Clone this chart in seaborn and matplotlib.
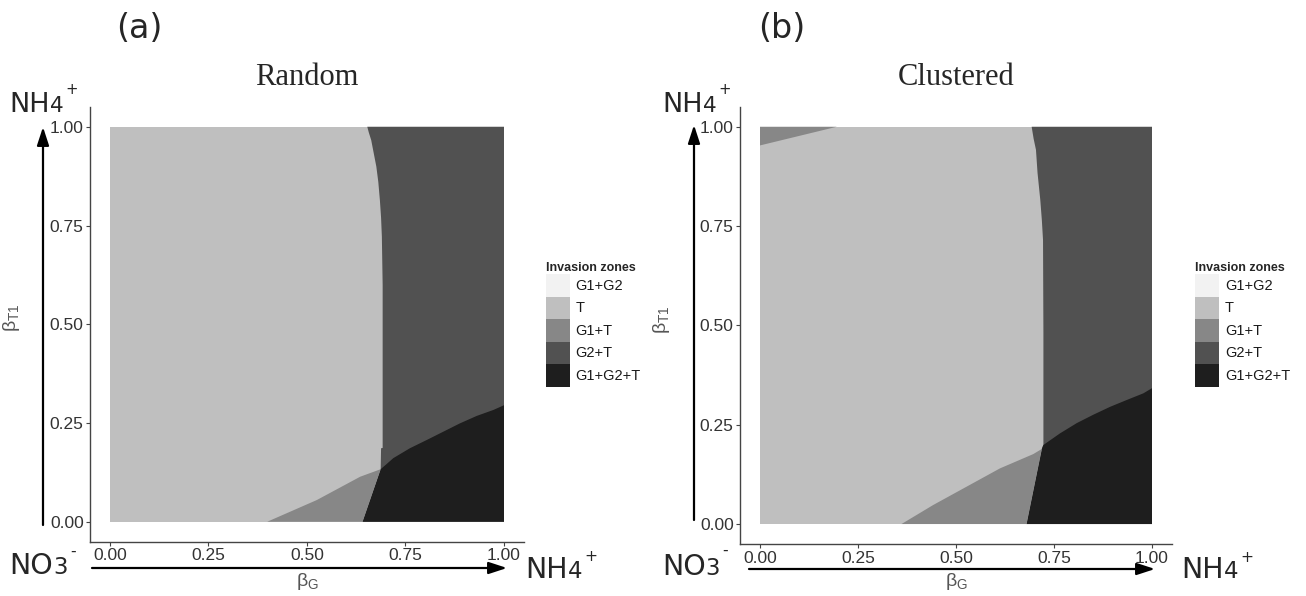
import matplotlib
matplotlib.use("Agg")
import matplotlib.pyplot as plt
import seaborn as sns
from matplotlib.patches import Patch

W, H = 1306, 596

zones = ["G1+G2", "T", "G1+T", "G2+T", "G1+G2+T"]
zone_colors = ["#F2F2F2", "#BFBFBF", "#878787", "#515151", "#1E1E1E"]
ticks = [0.0, 0.25, 0.5, 0.75, 1.0]
tick_labels = ["0.00", "0.25", "0.50", "0.75", "1.00"]

# (a) Random - zone boundaries
rand_t_g2_x = [0.653, 0.657, 0.663, 0.669, 0.676, 0.681, 0.685, 0.688, 0.690,
               0.692, 0.692, 0.688, 0.687]
rand_t_g2_y = [1.000, 0.985, 0.966, 0.935, 0.899, 0.860, 0.814, 0.770, 0.722,
               0.600, 0.187, 0.186, 0.133]
rand_all_x = [0.687, 0.702, 0.719, 0.761, 0.804, 0.846, 0.888, 0.931, 0.973, 1.000]
rand_all_y = [0.133, 0.146, 0.161, 0.186, 0.207, 0.228, 0.249, 0.268, 0.283, 0.295]
rand_g1t_x = [0.399, 0.525, 0.635, 0.687]
rand_g1t_y = [0.000, 0.055, 0.114, 0.133]
rand_all_left = 0.641

# (b) Clustered
clus_t_g2_x = [0.693, 0.698, 0.704, 0.708, 0.715, 0.719, 0.722, 0.723, 0.723, 0.719]
clus_t_g2_y = [1.000, 0.970, 0.942, 0.884, 0.816, 0.765, 0.715, 0.480, 0.200, 0.189]
clus_all_x = [0.719, 0.723, 0.765, 0.808, 0.850, 0.893, 0.935, 0.978, 1.000]
clus_all_y = [0.189, 0.199, 0.228, 0.254, 0.275, 0.295, 0.312, 0.329, 0.342]
clus_g1t_x = [0.361, 0.442, 0.527, 0.612, 0.697, 0.719]
clus_g1t_y = [0.000, 0.048, 0.094, 0.140, 0.176, 0.189]
clus_all_left = 0.680
clus_wedge_x = [0.0, 0.0, 0.196]
clus_wedge_y = [1.0, 0.953, 1.0]

sns.set_style("ticks")
plt.rcParams["font.family"] = ["Liberation Sans", "DejaVu Sans"]
plt.rcParams["mathtext.fontset"] = "dejavusans"

col = dict(zip(zones, zone_colors))


def draw_zones(ax, t_g2_x, t_g2_y, all_x, all_y, g1t_x, g1t_y, all_left):
    ax.fill([0, 1, 1, 0], [0, 0, 1, 1], color=col["T"], lw=0)
    # G2+T: everything right of the T boundary, G1+G2+T drawn over it
    ax.fill(t_g2_x + [all_left, 1.0, 1.0], t_g2_y + [0.0, 0.0, 1.0],
            color=col["G2+T"], lw=0)
    ax.fill(all_x + [1.0, all_left], all_y + [0.0, 0.0],
            color=col["G1+G2+T"], lw=0)
    ax.fill(g1t_x + [all_left], g1t_y + [0.0], color=col["G1+T"], lw=0)


def style_axes(ax, title, xlab_y, ylab_x):
    ax.set_xlim(-0.05, 1.05)
    ax.set_ylim(-0.05, 1.05)
    ax.set_xticks(ticks, tick_labels)
    ax.set_yticks(ticks, tick_labels)
    sns.despine(ax=ax)
    for s in ["left", "bottom"]:
        ax.spines[s].set_color("#444444")
        ax.spines[s].set_linewidth(1.0)
    ax.tick_params(length=2.6, width=0.8, color="#444444", pad=2.2,
                   labelsize=12.5, labelcolor="#333333")
    ax.set_title(title, family="Liberation Serif", fontsize=22, pad=16)
    ax.set_xlabel(r"$\mathregular{\beta_G}$", fontsize=14, color="#555555")
    ax.set_ylabel(r"$\mathregular{\beta_{T1}}$", fontsize=14, color="#555555")
    ax.xaxis.set_label_coords(0.5, xlab_y)
    ax.yaxis.set_label_coords(ylab_x, 0.514)


def chem_label(ax, x, y, base, sub, sup, size, sup_y):
    # x = left edge, y = baseline, both in picture pixels from top-left
    t = ax.annotate(base, xy=(x, H - y), xycoords="figure pixels",
                    fontsize=size, family="DejaVu Sans", va="baseline",
                    ha="left", annotation_clip=False)
    s = ax.annotate(sub, xy=(1, H - y), xycoords=(t, "figure pixels"),
                    fontsize=size * 0.8, family="DejaVu Sans", va="baseline",
                    ha="left", annotation_clip=False)
    ax.annotate(sup, xy=(1, H - sup_y), xycoords=(s, "figure pixels"),
                xytext=(1.5, 0), textcoords="offset points",
                fontsize=size * 0.55, family="DejaVu Sans", va="baseline",
                ha="left", annotation_clip=False)


def arrow(ax, x0, y0, x1, y1):
    ax.annotate("", xy=(x1, H - y1), xytext=(x0, H - y0),
                xycoords="figure pixels", textcoords="figure pixels",
                arrowprops=dict(arrowstyle="-|>,head_length=0.55,head_width=0.18",
                                mutation_scale=20, lw=1.6, color="black",
                                shrinkA=0, shrinkB=0),
                annotation_clip=False)


fig = plt.figure(figsize=(W / 100, H / 100), dpi=100)
ax1 = fig.add_axes([90.3 / W, 1 - 541.5 / H, 433.4 / W, 434.5 / H])
ax2 = fig.add_axes([740.4 / W, 1 - 543.9 / H, 431.2 / W, 437.0 / H])

draw_zones(ax1, rand_t_g2_x, rand_t_g2_y, rand_all_x, rand_all_y,
           rand_g1t_x, rand_g1t_y, rand_all_left)
draw_zones(ax2, clus_t_g2_x, clus_t_g2_y, clus_all_x, clus_all_y,
           clus_g1t_x, clus_g1t_y, clus_all_left)
ax2.fill(clus_wedge_x, clus_wedge_y, color=col["G1+T"], lw=0)

style_axes(ax1, "Random", -0.068, -0.158)
style_axes(ax2, "Clustered", -0.062, -0.159)

# panel letters
fig.text(139.5 / W, 1 - 28 / H, "(a)", family="DejaVu Sans", fontsize=24,
         ha="center", va="center")
fig.text(782 / W, 1 - 28 / H, "(b)", family="DejaVu Sans", fontsize=24,
         ha="center", va="center")

# nutrient gradient arrows and labels
arrow(ax1, 43, 525, 43, 127)
arrow(ax1, 92, 568, 507, 568)
arrow(ax2, 694, 520, 694, 125)
arrow(ax2, 749, 569, 1155, 569)

chem_label(ax1, 9.5, 112.3, "NH", "4", "+", 19.5, 94)
chem_label(ax1, 9.5, 574, "NO", "3", "-", 20.5, 555.6)
chem_label(ax1, 525, 578, "NH", "4", "+", 20.5, 561)
chem_label(ax2, 662, 111.7, "NH", "4", "+", 19.5, 93.5)
chem_label(ax2, 662, 575, "NO", "3", "-", 20.5, 554.6)
chem_label(ax2, 1181, 578, "NH", "4", "+", 20.5, 562.5)

handles = [Patch(facecolor=c, edgecolor="none") for c in zone_colors]
for lx in [546, 1195]:
    fig.legend(handles, zones, title="Invasion zones", loc="upper left",
               bbox_to_anchor=(lx / W, 1 - 262 / H), frameon=False,
               fontsize=10.5, title_fontproperties={"weight": "bold", "size": 9},
               alignment="left", handlelength=1.64, handleheight=2.0,
               labelspacing=0, handletextpad=0.4, borderpad=0,
               borderaxespad=0, labelcolor="#1a1a1a")

fig.savefig("out.png", dpi=100)
